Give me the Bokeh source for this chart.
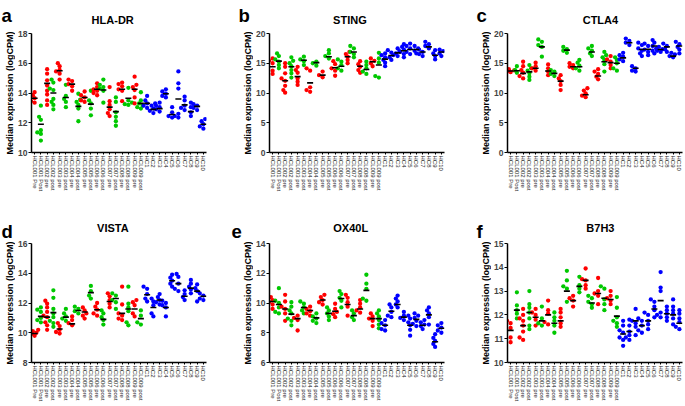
import numpy as np
from bokeh.plotting import figure
from bokeh.layouts import column, row
from bokeh.models import Range1d, FixedTicker
from bokeh.core.properties import value
from bokeh.embed import file_html
from bokeh.resources import INLINE

categories = ["HCL001 Pre", "HCL001 Post", "HCL002 pre", "HCL002 post", "HCL003 pre", "HCL003 post",
              "HCL004 pre", "HCL004 post", "HCL005 pre", "HCL005 post", "HCL006 pre", "HCL006 post",
              "HCL007 pre", "HCL007 post", "HCL008 pre", "HCL008 post", "HCL009 pre", "HCL009 post",
              "HC1", "HC2", "HC3", "HC4", "HC5", "HC6", "HC7", "HC8", "HC9", "HC10"]
groups = ["pre", "post"] * 9 + ["HC"] * 10

panel_letters = ["a", "b", "c", "d", "e", "f"]
panel_titles = ["HLA-DR", "STING", "CTLA4", "VISTA", "OX40L", "B7H3"]
y_label = "Median expression (logCPM)"

hla_dr = [
    [14.05, 13.85, 13.65, 13.45, 13.35],
    [13.15, 12.4, 12.2, 11.5, 11.35, 11.25, 10.8],
    [15.6, 15.3, 14.85, 14.5, 14.15, 13.9, 13.5, 13.2],
    [14.9, 14.7, 14.3, 14.2, 13.6, 13.4, 13.2, 12.9],
    [16.0, 15.8, 15.55, 15.45, 15.3, 14.9],
    [14.55, 13.8, 13.6, 13.4, 13.05],
    [14.9, 14.8, 14.6, 14.45, 14.15],
    [13.95, 13.55, 13.4, 13.2, 12.95, 12.1],
    [14.1, 13.85, 13.7, 13.5, 13.4],
    [14.15, 13.5, 13.3, 12.95, 12.5],
    [14.65, 14.4, 14.25, 14.15, 14.0, 13.85],
    [14.9, 14.55, 14.4, 14.3, 14.15, 13.35],
    [14.4, 13.45, 13.2, 12.9, 12.65, 12.45],
    [13.7, 13.4, 12.7, 12.4, 12.1, 11.8],
    [14.7, 14.6, 14.45, 14.25, 14.15, 13.45],
    [14.35, 13.5, 13.35, 13.25, 13.2],
    [15.1, 14.55, 14.4, 14.2, 13.7, 13.3],
    [14.05, 13.5, 13.3, 13.15, 13.05, 12.95],
    [13.8, 13.5, 13.3, 13.15, 13.0],
    [13.3, 13.15, 12.95, 12.8, 12.65],
    [13.35, 13.15, 13.05, 12.9, 12.75],
    [14.25, 14.1, 13.95, 13.8, 13.7],
    [13.05, 12.7, 12.45, 12.35],
    [15.45, 14.65, 14.3, 12.6, 12.45, 12.35],
    [13.75, 13.5, 13.15, 13.0, 12.85],
    [13.35, 13.05, 12.7, 12.45],
    [13.25, 13.15, 13.0, 12.85],
    [12.25, 12.1, 11.9, 11.75, 11.6],
]
hla_dr_bar = [13.65, 11.9, 14.65, 14.0, 15.5, 13.7, 14.6, 13.1, 13.7, 13.25, 14.25, 14.2, 13.05, 12.75,
              14.25, 13.65, 14.25, 13.3, 13.3, 12.9, 12.95, 13.95, 12.55, 13.6, 13.2, 12.75, 13.1, 11.9]

sting = [
    [15.8, 15.4, 15.0, 13.75, 13.2],
    [16.65, 16.2, 15.65, 15.25, 14.7, 14.15],
    [15.0, 14.4, 13.3, 12.45, 12.05, 11.2, 10.5, 10.05],
    [16.0, 15.4, 15.0, 14.5, 13.85, 13.3, 12.6],
    [14.4, 13.85, 13.4, 12.45, 11.9, 11.35],
    [16.1, 15.65, 15.35, 14.7],
    [14.15, 13.75, 10.95, 10.5, 10.2],
    [15.25, 15.0, 14.6],
    [13.6, 13.0, 12.65],
    [17.2, 16.65, 16.2, 15.8],
    [15.35, 14.85, 14.15, 13.75, 12.9],
    [15.65, 15.25, 14.7, 14.15, 13.75],
    [16.9, 16.55, 16.1, 15.55, 15.0],
    [17.9, 17.5, 16.9, 16.55, 16.0],
    [15.35, 14.85, 14.4, 13.85, 13.4],
    [15.25, 14.7, 14.15, 13.6, 13.2],
    [15.8, 15.4, 15.0, 14.5],
    [16.75, 15.8, 15.1, 12.85, 12.6],
    [16.65, 16.35, 16.0, 15.55, 15.1, 14.5],
    [17.2, 16.8, 16.35, 16.0, 15.55],
    [17.5, 17.05, 16.65, 16.2],
    [18.2, 17.75, 17.3, 16.9, 16.55, 16.0],
    [18.3, 17.9, 17.5, 16.9, 16.55],
    [17.9, 17.5, 17.1, 16.65],
    [17.3, 16.9, 16.55, 16.2],
    [18.6, 18.2, 17.9, 17.5],
    [17.2, 16.65, 16.2, 15.65],
    [17.3, 17.05, 16.65, 16.2],
]
sting_bar = [14.4, 15.35, 12.05, 14.4, 12.75, 15.5, 11.7, 15.1, 13.0, 16.1, 14.25, 14.5, 16.1, 16.9,
             14.5, 13.95, 15.25, 14.7, 15.7, 16.3, 16.75, 17.1, 17.3, 17.3, 16.9, 17.75, 16.35, 16.9]

ctla4 = [
    [14.0, 13.8, 13.6, 13.5],
    [14.5, 13.85, 13.4],
    [15.25, 14.5, 13.85, 13.4, 12.85, 12.45],
    [14.7, 14.15, 13.75, 13.3, 12.75, 12.2],
    [15.1, 14.5, 14.15, 13.75],
    [19.0, 18.6, 18.05, 17.75, 16.1],
    [14.8, 14.15, 13.6, 13.0],
    [13.85, 13.6, 13.2, 12.85],
    [13.0, 12.45, 12.0, 11.35, 10.5],
    [17.75, 17.35, 17.1, 16.75],
    [15.0, 14.7, 14.4, 14.15],
    [15.55, 15.1, 14.6, 14.15, 13.75],
    [10.8, 10.4, 9.95, 9.55, 9.3],
    [17.9, 17.5, 17.1, 16.65, 16.2],
    [14.0, 13.6, 13.2, 12.75, 12.3],
    [16.9, 16.35, 16.0, 15.55, 14.85, 13.6],
    [16.2, 15.65, 15.25, 14.7, 14.15],
    [16.0, 15.55, 15.0, 14.15, 13.75],
    [16.75, 16.35, 16.1, 15.65, 15.35],
    [19.15, 18.75, 18.45, 18.05],
    [14.5, 14.15, 13.75, 13.6],
    [18.45, 18.05, 17.5, 17.1, 16.65, 16.2],
    [18.3, 17.9, 17.3, 16.9, 16.35],
    [18.9, 18.45, 17.9, 17.5, 17.1, 16.65],
    [17.75, 17.35, 17.1, 16.9],
    [18.3, 17.9, 17.35, 16.9],
    [16.75, 16.5, 16.2, 16.0],
    [18.6, 18.2, 17.75, 17.3, 16.65],
]
ctla4_bar = [13.7, 13.75, 13.3, 13.55, 14.15, 17.75, 13.7, 13.3, 12.0, 17.2, 14.4, 14.4, 9.7, 16.9,
             12.85, 15.25, 15.1, 15.0, 15.9, 18.45, 14.15, 17.3, 17.35, 17.9, 17.3, 17.75, 16.2, 17.9]

vista = [
    [10.2, 10.1, 10.0, 9.9, 9.8],
    [11.7, 11.55, 11.4, 11.0, 10.85, 10.7],
    [12.15, 11.95, 11.7, 11.4, 11.15, 11.05, 10.7, 10.5, 10.2],
    [12.85, 12.35, 11.6, 11.3, 11.05, 10.8, 10.65, 10.4],
    [10.65, 10.45, 10.2, 10.05, 9.95],
    [11.6, 11.3, 11.1, 10.95, 10.8],
    [11.1, 10.85, 10.65, 10.5],
    [11.75, 11.6, 11.45, 11.3],
    [11.7, 11.5, 11.3, 11.15, 10.95],
    [13.15, 12.8, 12.5, 12.3],
    [12.0, 11.75, 11.55, 11.3, 11.15],
    [11.5, 11.3, 11.05, 10.85, 10.55],
    [12.65, 12.45, 12.2, 11.95, 11.7],
    [12.65, 12.5, 12.2, 12.05, 11.6],
    [13.1, 11.9, 11.3, 11.15, 10.95, 10.85],
    [13.1, 11.95, 11.7, 11.45, 10.7, 10.5],
    [12.2, 12.05, 11.85, 11.3, 11.1],
    [11.5, 11.15, 10.7, 10.55],
    [13.1, 12.95, 12.6, 12.3, 12.1],
    [12.3, 12.1, 11.85, 11.3, 11.1],
    [12.6, 12.4, 12.2, 12.05, 11.9],
    [12.15, 12.0, 11.85, 11.7, 11.1],
    [13.9, 13.7, 13.5, 13.3, 13.1],
    [13.95, 13.75, 13.3, 12.95, 12.8],
    [12.85, 12.6, 12.4, 12.2],
    [13.55, 13.3, 13.1, 12.9, 12.65],
    [13.25, 13.0, 12.8, 12.1],
    [12.65, 12.5, 12.3, 12.2],
]
vista_bar = [9.95, 11.1, 11.05, 11.35, 10.25, 11.05, 10.6, 11.5, 11.4, 12.7, 11.55, 10.9, 12.1, 12.3,
             11.3, 11.6, 11.6, 10.95, 12.55, 11.7, 12.2, 11.7, 13.5, 13.3, 12.45, 13.0, 12.8, 12.45]

ox40l = [
    [10.4, 10.2, 10.05, 9.9, 9.6],
    [11.0, 10.15, 10.0, 9.7, 9.4, 9.3],
    [10.55, 10.1, 9.75, 9.6, 9.3, 8.8],
    [10.05, 9.75, 9.5, 9.3, 8.95, 8.8, 8.5],
    [9.15, 9.0, 8.85, 8.15],
    [10.1, 9.95, 9.7, 9.5, 9.3],
    [9.75, 9.6, 9.45, 9.3, 9.15],
    [9.3, 9.1, 8.95, 8.8, 8.65],
    [10.55, 10.4, 10.2, 10.05, 9.9],
    [9.7, 9.5, 9.3, 9.1, 8.85],
    [9.95, 9.6, 9.4, 9.25, 9.05],
    [10.8, 10.6, 10.35, 10.15, 9.7],
    [10.55, 10.35, 10.05, 9.75, 9.15],
    [9.5, 9.3, 9.05, 8.85],
    [10.2, 9.95, 9.7, 9.5, 9.35],
    [11.9, 11.3, 10.95, 10.3, 10.15],
    [9.3, 9.1, 8.95, 8.8, 8.45],
    [9.5, 9.3, 9.1, 8.85, 8.55, 8.3],
    [8.85, 8.65, 8.5, 8.25, 8.15],
    [9.9, 9.7, 9.4, 9.15, 9.05],
    [10.5, 10.3, 10.1, 9.9, 9.7],
    [9.4, 9.15, 9.0, 8.85],
    [9.15, 8.95, 8.7, 8.5, 8.2, 7.8],
    [9.3, 9.15, 9.0, 8.8, 8.6, 8.45],
    [8.85, 8.7, 8.55, 8.45, 8.25],
    [9.7, 9.5, 9.3, 9.05, 8.55],
    [7.9, 7.65, 7.45, 7.25, 7.05],
    [8.65, 8.5, 8.35, 8.15, 8.0],
]
ox40l_bar = [10.1, 9.9, 9.6, 9.25, 8.95, 9.7, 9.5, 9.0, 10.2, 9.3, 9.45, 10.3, 9.9, 9.15,
             9.6, 10.85, 8.95, 8.95, 8.5, 9.45, 9.9, 9.05, 8.5, 8.9, 8.5, 9.2, 7.4, 8.3]

b7h3 = [
    [11.75, 11.65, 11.45, 11.05, 10.85],
    [12.95, 12.4, 12.2, 12.05, 11.85],
    [12.25, 12.0, 11.85, 11.75, 11.55, 11.3, 11.05, 10.95],
    [13.0, 12.45, 12.3, 12.1, 11.85, 11.55, 11.4],
    [12.25, 12.1, 12.0, 11.8, 11.55],
    [12.35, 11.85, 11.65, 11.55],
    [12.6, 12.2, 12.05, 11.7, 11.6],
    [12.1, 11.9, 11.75, 11.55, 11.25],
    [12.25, 12.1, 11.9, 11.65, 11.5],
    [13.85, 13.45, 13.2, 13.1, 12.55],
    [12.8, 12.7, 12.6, 12.35],
    [13.6, 13.25, 13.1, 12.95],
    [13.95, 13.5, 13.45, 13.25, 13.1],
    [12.8, 12.7, 12.55, 12.45, 12.3],
    [13.55, 13.0, 12.9, 12.8, 12.45],
    [13.2, 13.1, 12.65, 12.45, 12.2],
    [13.0, 12.8, 12.7, 12.6, 12.45],
    [12.75, 12.3, 11.9, 11.75, 11.65, 11.5],
    [11.75, 11.55, 11.35, 11.25, 11.05, 10.95, 10.7],
    [11.8, 11.55, 11.3, 11.15, 11.05, 10.95],
    [12.25, 11.75, 11.65, 11.5, 11.15],
    [11.85, 11.75, 11.55, 11.35, 11.25],
    [12.1, 12.0, 11.75, 11.6, 11.4],
    [12.65, 12.55, 12.35, 12.2, 11.9],
    [13.8, 13.15, 13.0, 12.1, 12.0, 11.9],
    [12.35, 12.2, 12.05, 11.9, 11.75],
    [12.65, 12.35, 12.2, 12.05, 11.85, 11.6],
    [12.2, 12.05, 11.85, 11.7, 11.5, 11.4],
]
b7h3_bar = [11.35, 12.2, 11.55, 12.1, 11.9, 11.75, 12.0, 11.65, 11.75, 13.0, 12.6, 13.2, 13.45, 12.5,
            12.9, 12.7, 12.65, 11.95, 11.2, 11.3, 11.75, 11.55, 11.75, 12.25, 12.6, 12.05, 12.0, 11.65]

y_ticks_a = [10, 12, 14, 16, 18]
y_ticks_b = [0, 5, 10, 15, 20]
y_ticks_c = [0, 5, 10, 15, 20]
y_ticks_d = [8, 10, 12, 14, 16]
y_ticks_e = [6, 8, 10, 12, 14]
y_ticks_f = [10, 11, 12, 13, 14, 15]

COLORS = {"pre": "#ff0000", "post": "#00c800", "HC": "#0000ff"}
FONT = "Liberation Sans"
DOT = 4.3

# ---- layout (pixels) ----
BL, FRAME_W, FRAME_H, BT = 14, 177, 119, 5
# per row: header height, bottom border, strip widths, plot widths
ROWS = [
    dict(header=28, bb=48, strips=[15, 16, 16], plots=[222, 222, 194],
         letter_y=15, title_y=19.5, title_x=[118, 355, 594]),
    dict(header=38, bb=44, strips=[15, 23, 16], plots=[215, 222, 194],
         letter_y=31, title_y=27.5, title_x=[115, 356, 594]),
]


def swarm_offsets(vals, ppu_y, ppu_x):
    vals = np.asarray(vals, dtype=float)
    order = np.argsort(vals)
    placed = []
    offs = np.zeros(len(vals))
    step = DOT * 0.42
    cands = [0.0, -step, step, -2 * step, 2 * step]
    for i in order:
        y = vals[i] * ppu_y
        chosen = None
        for c in cands:
            if all((c - px) ** 2 + (y - py) ** 2 >= (DOT * 0.7) ** 2 for px, py in placed):
                chosen = c
                break
        if chosen is None:
            chosen = max(cands, key=lambda c: min((c - px) ** 2 + (y - py) ** 2 for px, py in placed))
        placed.append((chosen, y))
        offs[i] = chosen / ppu_x
    return offs


def blank(width, height):
    p = figure(width=width, height=height, x_range=Range1d(0, width), y_range=Range1d(height, 0),
               output_backend="svg", toolbar_location=None, title_location=None,
               min_border=0, min_border_left=0, min_border_right=0,
               min_border_top=0, min_border_bottom=0)
    p.axis.visible = False
    p.grid.visible = False
    p.outline_line_color = None
    return p


def make_strip(width, height, letter, letter_y, label_x, label_y):
    s = blank(width, height)
    s.text(x=[1], y=[letter_y], text=[letter],
           text_font=value(FONT), text_font_size="18.5px", text_font_style="bold",
           text_align="left", text_baseline="alphabetic", text_color="black")
    s.text(x=[label_x], y=[label_y], text=[y_label], angle=np.pi / 2,
           text_font=value(FONT), text_font_size="9px", text_font_style="bold",
           text_align="center", text_baseline="middle", text_color="black")
    return s


def make_header(width, height, title, title_x, title_y):
    h = blank(width, height)
    h.text(x=[title_x], y=[title_y], text=[title],
           text_font=value(FONT), text_font_size="11px", text_font_style="bold",
           text_align="center", text_baseline="alphabetic", text_color="black")
    return h


def make_plot(data, bars, yr, yticks, width, height, bb):
    br = width - BL - FRAME_W
    p = figure(width=width, height=height, x_range=Range1d(-0.5, len(categories) - 0.5),
               y_range=Range1d(yr[0], yr[1]), output_backend="svg", toolbar_location=None,
               title_location=None,
               min_border_left=BL, min_border_right=br, min_border_top=BT, min_border_bottom=bb)
    p.outline_line_color = None
    p.grid.visible = False

    ppu_x = FRAME_W / len(categories)
    ppu_y = FRAME_H / (yr[1] - yr[0])

    xs, ys, cs = [], [], []
    for i, (vals, g) in enumerate(zip(data, groups)):
        offs = swarm_offsets(vals, ppu_y, ppu_x)
        for v, o in zip(vals, offs):
            xs.append(i + o)
            ys.append(v)
            cs.append(COLORS[g])
    p.scatter(xs, ys, marker="circle", size=DOT, fill_color=cs, line_color=None)

    idx = np.arange(len(categories))
    p.segment(x0=idx - 0.48, x1=idx + 0.48, y0=bars, y1=bars, line_color="black", line_width=1.6)

    xa = p.xaxis[0]
    xa.ticker = FixedTicker(ticks=list(range(len(categories))))
    xa.major_label_overrides = {i: c for i, c in enumerate(categories)}
    xa.major_label_orientation = "vertical"
    xa.major_label_text_font = FONT
    xa.major_label_text_font_size = "6px"
    xa.major_label_text_color = "#222222"
    xa.major_label_standoff = 1
    xa.major_tick_in = 0
    xa.major_tick_out = 2
    xa.minor_tick_line_color = None
    xa.axis_line_width = 1.5
    xa.major_tick_line_width = 1

    ya = p.yaxis[0]
    ya.ticker = FixedTicker(ticks=yticks)
    ya.major_label_text_font = FONT
    ya.major_label_text_font_size = "8.5px"
    ya.major_label_text_font_style = "bold"
    ya.major_label_standoff = 1
    ya.major_tick_in = 0
    ya.major_tick_out = 3
    ya.minor_tick_line_color = None
    ya.axis_line_width = 1.5
    ya.major_tick_line_width = 1.2
    return p


specs = [
    (hla_dr, hla_dr_bar, (10, 18), y_ticks_a),
    (sting, sting_bar, (0, 20), y_ticks_b),
    (ctla4, ctla4_bar, (0, 20), y_ticks_c),
    (vista, vista_bar, (8, 16), y_ticks_d),
    (ox40l, ox40l_bar, (6, 14), y_ticks_e),
    (b7h3, b7h3_bar, (10, 15), y_ticks_f),
]

row_layouts = []
for r, cfg in enumerate(ROWS):
    hh, bb = cfg["header"], cfg["bb"]
    plot_h = BT + FRAME_H + bb
    total_h = hh + plot_h
    children = []
    x0 = 0
    for c in range(3):
        k = r * 3 + c
        data, bars, yr, yt = specs[k]
        sw, pw = cfg["strips"][c], cfg["plots"][c]
        frame_left = sw + BL                         # local to strip start
        label_x = frame_left - 19.5
        label_y = hh + BT + FRAME_H / 2
        strip = make_strip(sw, total_h, panel_letters[k], cfg["letter_y"], label_x, label_y)
        header = make_header(pw, hh, panel_titles[k], cfg["title_x"][c] - (x0 + sw), cfg["title_y"])
        plot = make_plot(data, bars, yr, yt, pw, plot_h, bb)
        children.append(strip)
        children.append(column(header, plot))
        x0 += sw + pw
    row_layouts.append(row(*children))

layout = column(*row_layouts)
open("out.html", "w").write(file_html(layout, INLINE))
